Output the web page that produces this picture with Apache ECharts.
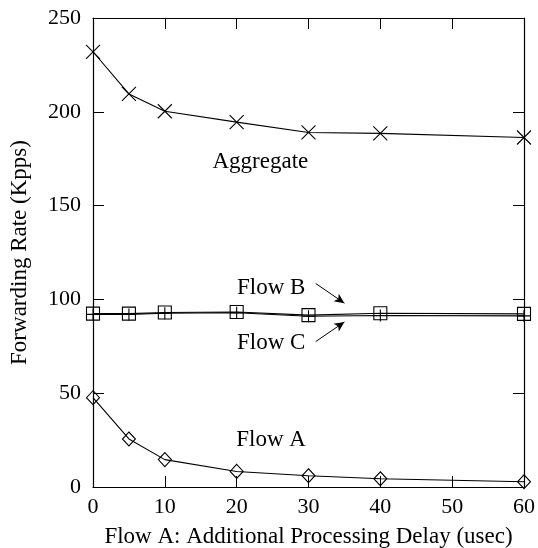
<!DOCTYPE html>
<html>
<head>
<meta charset="utf-8">
<script src="https://cdn.jsdelivr.net/npm/echarts@6/dist/echarts.min.js"></script>
<style>
html, body { margin: 0; padding: 0; background: #fff; }
#main { width: 538px; height: 548px; }
</style>
</head>
<body>
<div id="main"></div>
<script>
var delays = [0, 5, 10, 20, 30, 40, 60];
var aggregate = [232, 209.5, 200.3, 194.5, 189, 188.5, 186.3];
var flowB = [92.4, 92.4, 93.0, 93.3, 91.6, 92.6, 92.3];
var flowC = [92.0, 92.0, 92.6, 92.9, 91.0, 91.4, 91.2];
var flowA = [47.6, 25.6, 14.6, 8.3, 6.0, 4.4, 2.8];

var xTicks = [0, 10, 20, 30, 40, 50, 60];
var yTicks = [0, 50, 100, 150, 200, 250];

var FONT = 'Liberation Serif';

var pairs = function(ys){
	var out = [], i;
	for (i = 0; i < delays.length; i++) {
		out.push([delays[i], ys[i]]);
	}
	return out;
};

var lineStyle = { color: '#000', width: 1.1 };
var hollow = { color: 'transparent', borderColor: '#000', borderWidth: 1.1 };

// text annotations in data coords
var textMark = function(name, x, y){
	return {
		coord: [x, y],
		symbol: 'circle',
		symbolSize: 1,
		itemStyle: { color: 'transparent', borderWidth: 0 },
		label: { show: true, position: 'inside', formatter: name, color: '#000', fontFamily: FONT, fontSize: 23 }
	};
};

var arrow = function(x1, y1, x2, y2){
	return [{ coord: [x1, y1] }, { coord: [x2, y2] }];
};

var axisBase = function(pos, ticks){
	return {
		type: 'value', position: pos,
		min: ticks[0], max: ticks[ticks.length - 1], interval: ticks[1] - ticks[0],
		axisLine: { show: true, onZero: false, lineStyle: { color: '#000', width: 1.2 } },
		axisTick: { show: true, inside: true, length: 11, lineStyle: { color: '#000' } },
		axisLabel: { show: false },
		splitLine: { show: false }
	};
};

var xBottom = axisBase('bottom', xTicks);
xBottom.name = 'Flow A: Additional Processing Delay (usec)';
xBottom.nameLocation = 'middle';
xBottom.nameGap = 38;
xBottom.nameTextStyle = { color: '#000', fontFamily: FONT, fontSize: 23 };
xBottom.axisLabel = { show: true, color: '#000', fontFamily: FONT, fontSize: 22, margin: 9 };

var yLeft = axisBase('left', yTicks);
yLeft.name = 'Forwarding Rate (Kpps)';
yLeft.nameLocation = 'middle';
yLeft.nameGap = 62;
yLeft.nameRotate = 90;
yLeft.nameTextStyle = { color: '#000', fontFamily: FONT, fontSize: 23 };
yLeft.axisLabel = { show: true, color: '#000', fontFamily: FONT, fontSize: 22, margin: 12 };

var option = {
	backgroundColor: '#fff',
	animation: false,
	grid: { left: 93, right: 14, top: 18, bottom: 61, outerBoundsMode: 'none' },
	xAxis: [xBottom, axisBase('top', xTicks)],
	yAxis: [yLeft, axisBase('right', yTicks)],
	series: [{
		name: 'Aggregate', type: 'line', data: pairs(aggregate),
		symbol: 'path://M0,0L10,10M10,0L0,10', symbolSize: 14,
		lineStyle: lineStyle, itemStyle: hollow,
		markPoint: { silent: true, data: [textMark('Aggregate', 23.3, 173.5)] }
	}, {
		name: 'Flow B', type: 'line', data: pairs(flowB),
		symbol: 'rect', symbolSize: 13,
		lineStyle: lineStyle, itemStyle: hollow,
		markPoint: { silent: true, data: [textMark('Flow B', 24.8, 106)] },
		markLine: {
			silent: true, symbol: ['none', 'arrow'], symbolSize: [7, 10],
			lineStyle: { color: '#000', width: 1, type: 'solid' },
			label: { show: false },
			data: [arrow(31, 108.5, 35, 98), arrow(31, 77.5, 35, 88)]
		}
	}, {
		name: 'Flow C', type: 'line', data: pairs(flowC),
		symbol: 'path://M5,0L5,10M0,5L10,5', symbolSize: 12,
		lineStyle: lineStyle, itemStyle: hollow,
		markPoint: { silent: true, data: [textMark('Flow C', 24.8, 77)] }
	}, {
		name: 'Flow A', type: 'line', data: pairs(flowA),
		symbol: 'diamond', symbolSize: [13, 14],
		lineStyle: lineStyle, itemStyle: hollow,
		markPoint: { silent: true, data: [textMark('Flow A', 24.8, 25)] }
	}]
};

var myChart = echarts.init(document.getElementById('main'));
myChart.setOption(option);
</script>
</body>
</html>
